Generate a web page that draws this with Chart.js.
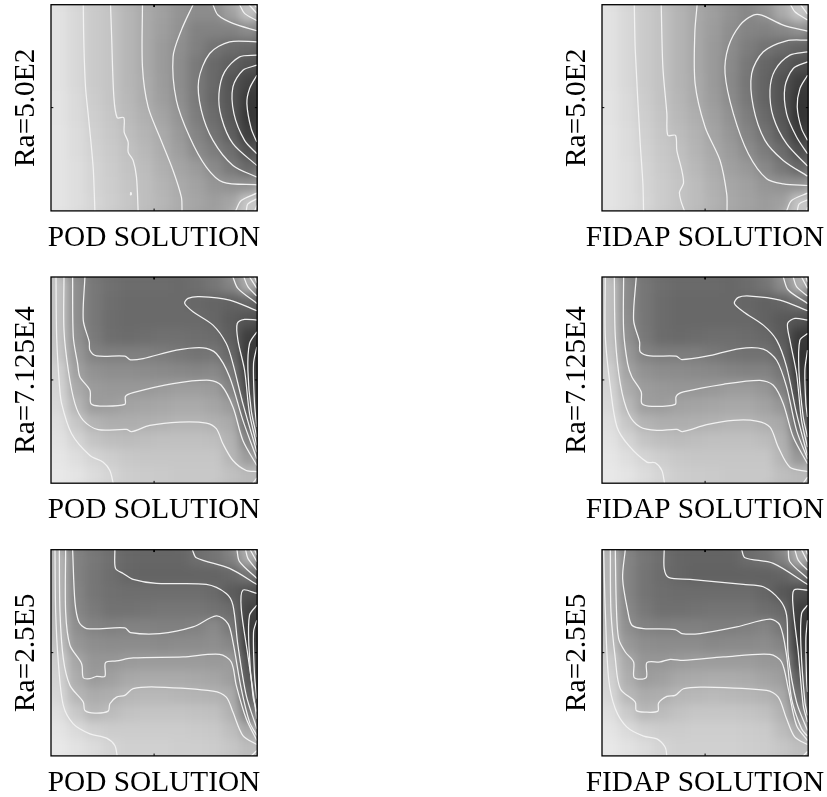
<!DOCTYPE html>
<html><head><meta charset="utf-8">
<script src="https://cdn.jsdelivr.net/npm/chart.js@4"></script>
<style>html,body{margin:0;padding:0;background:#fff;width:827px;height:797px;overflow:hidden}
canvas{position:absolute}</style></head><body>
<script>
// Gray level (0-255) read per cell, 12 rows top to bottom, 12 columns left to right
const pod500Field=[
[226,216,202,196,182,170,160,148,140,140,160,195],
[226,216,202,196,182,170,158,146,130,130,130,140],
[226,216,202,196,182,170,155,143,128,115,108,105],
[226,216,202,196,182,170,155,141,122,105,95,85],
[226,216,202,196,182,172,156,141,122,105,85,68],
[227,218,204,196,184,172,158,143,122,103,86,58],
[227,218,206,198,186,176,164,148,125,108,88,55],
[228,220,208,200,190,180,170,153,132,115,95,62],
[228,220,210,202,193,184,172,158,139,125,110,82],
[228,222,212,204,195,188,176,165,155,138,122,105],
[228,222,212,205,197,190,180,170,162,150,145,145],
[228,222,214,206,198,190,182,172,165,158,165,200]];
const fidap500Field=[
[226,216,202,194,180,168,158,146,135,145,170,198],
[226,216,202,194,180,168,156,142,132,130,135,145],
[226,216,202,194,180,168,154,140,125,115,108,100],
[226,216,202,194,180,168,154,138,120,102,92,80],
[226,216,202,194,180,170,154,137,118,100,82,62],
[227,218,204,194,182,170,156,139,120,100,82,54],
[227,218,206,196,184,174,160,145,126,106,86,52],
[228,220,208,198,188,178,164,150,132,114,92,60],
[228,220,210,200,192,180,168,155,140,124,108,80],
[228,222,212,202,194,184,172,160,152,136,120,104],
[228,222,212,204,196,188,176,166,160,150,146,146],
[228,222,214,204,196,188,178,168,162,156,160,198]];
const pod7125Field=[
[195,142,120,112,108,108,108,106,110,118,132,172],
[195,142,120,110,106,106,106,106,104,101,98,102],
[195,142,120,109,106,106,106,106,106,102,92,84],
[195,146,122,110,108,110,112,112,110,108,95,62],
[198,152,130,127,127,127,124,120,116,118,103,58],
[208,160,146,142,142,140,138,136,134,136,120,62],
[212,170,155,152,152,152,155,158,158,155,132,72],
[216,182,156,157,163,165,167,170,170,165,155,88],
[222,198,180,174,174,175,177,180,180,176,170,105],
[226,212,196,190,188,190,192,192,192,190,178,132],
[230,222,212,205,200,198,198,198,198,198,182,155],
[232,228,220,212,205,203,202,200,200,200,192,185]];
const fidap7125Field=[
[192,138,118,110,106,106,106,104,108,116,138,176],
[192,138,118,108,104,104,104,104,102,98,100,112],
[192,140,118,108,104,104,104,104,104,98,90,84],
[193,144,120,108,106,108,110,110,108,104,92,58],
[197,152,130,125,125,125,120,116,114,114,100,52],
[206,162,146,141,140,138,136,132,130,130,118,55],
[212,172,156,152,150,150,152,156,156,150,130,68],
[216,184,158,156,162,164,166,168,168,162,150,80],
[222,198,180,174,174,175,177,180,180,174,168,100],
[226,212,196,190,188,190,192,192,192,188,176,128],
[230,222,212,205,200,198,198,198,198,198,180,150],
[232,228,220,212,205,203,202,200,200,200,190,185]];
const pod25Field=[
[182,130,120,112,104,102,102,102,110,116,128,172],
[182,130,118,110,102,100,100,100,100,100,104,116],
[182,132,118,112,110,110,110,110,110,106,92,82],
[182,134,122,114,114,116,118,118,118,114,108,68],
[186,142,131,128,130,130,128,128,130,138,120,60],
[192,150,142,140,140,140,138,140,140,142,135,62],
[205,165,150,150,154,155,155,155,155,154,155,78],
[210,172,155,160,168,170,170,170,168,165,158,88],
[214,182,172,174,182,184,184,182,180,178,172,100],
[222,200,182,188,194,196,196,196,194,192,178,125],
[228,218,208,204,204,204,204,204,202,200,190,168],
[232,226,220,212,208,208,208,206,206,204,198,188]];
const fidap25Field=[
[180,132,118,110,102,100,100,100,108,114,130,174],
[180,132,116,108,102,98,98,98,98,98,100,114],
[180,132,116,110,108,108,108,108,108,102,88,78],
[182,136,120,112,112,114,116,116,116,110,105,62],
[185,142,130,127,128,128,126,126,128,132,118,55],
[192,152,142,140,140,140,136,138,138,140,132,58],
[204,168,150,150,154,156,156,156,156,152,150,72],
[210,174,156,160,168,170,172,172,170,164,158,92],
[214,184,172,174,182,184,186,184,182,178,170,108],
[222,202,184,188,194,198,198,198,196,192,178,135],
[228,218,208,204,204,206,206,206,204,202,188,172],
[232,226,220,212,208,208,208,208,206,204,198,190]];

// Contour polylines, in the panel's own units (x 0-620, y 0-617 from the top)
const pod500Contours=[
[[97,0],[98,80],[100,160],[104,250],[112,330],[120,410],[127,490],[130,560],[132,617]],
[[179,0],[182,86],[189,276],[199,338],[219,338],[220,381],[232,411],[232,441],[247,466],[257,516],[262,617]],
[[275,0],[275,186],[292,306],[327,396],[367,496],[392,576],[394,617]],
[[427,0],[392,76],[367,156],[377,286],[417,396],[467,486],[517,531],[619,539]],
[[619,111],[537,111],[477,146],[444,226],[452,316],[487,406],[547,481],[619,516]],
[[619,151],[567,156],[522,201],[505,266],[512,336],[547,416],[619,481]],
[[619,181],[577,196],[547,246],[550,326],[582,406],[619,446]],
[[619,211],[597,251],[589,296],[602,371],[619,411]],
[[487,0],[502,31],[547,56],[619,78]],
[[567,0],[582,26],[619,48]],
[[595,0],[619,26]],
[[612,0],[619,8]],
[[555,617],[572,586],[619,564]],
[[587,617],[592,596],[619,581]],
[[612,617],[619,601]],
[[240,561],[242,567],[239,569],[240,561]]];
const fidap500Contours=[
[[97,0],[100,136],[115,416],[123,536],[125,617]],
[[178,0],[183,186],[195,326],[198,391],[221,391],[225,436],[240,496],[245,534],[233,561],[237,586],[248,617]],
[[286,0],[279,86],[280,236],[310,366],[355,466],[375,566],[376,617]],
[[618,79],[545,61],[480,31],[455,31],[415,61],[380,126],[370,206],[395,326],[440,446],[495,521],[545,536],[618,541]],
[[618,106],[555,108],[485,141],[450,206],[455,306],[490,406],[545,466],[618,513]],
[[618,141],[565,151],[520,196],[505,256],[515,336],[555,416],[618,483]],
[[618,171],[575,191],[550,246],[555,326],[585,396],[618,446]],
[[618,211],[595,251],[587,306],[600,371],[618,406]],
[[567,0],[580,21],[618,46]],
[[597,0],[618,28]],
[[555,617],[570,586],[618,564]],
[[587,617],[593,596],[618,584]],
[[615,617],[618,606]]];
const pod7125Contours=[
[[15,0],[17,179],[25,319],[32,379],[62,469],[117,534],[157,554],[177,579],[187,617]],
[[39,0],[39,159],[52,279],[72,379],[97,429],[142,457],[227,456],[242,463],[297,444],[387,434],[467,437],[497,454],[517,499],[547,549],[587,579],[619,582]],
[[65,0],[67,179],[80,259],[87,299],[117,339],[120,379],[147,386],[222,381],[224,357],[247,346],[367,319],[477,309],[512,324],[547,389],[577,489],[619,564]],
[[102,0],[97,129],[115,194],[117,219],[137,236],[222,237],[239,248],[277,244],[377,219],[457,212],[497,229],[537,299],[577,429],[619,544]],
[[619,101],[537,69],[447,59],[412,64],[402,79],[427,104],[487,144],[527,199],[547,259],[577,379],[619,524]],
[[619,129],[582,127],[560,139],[562,189],[582,279],[597,409],[619,504]],
[[619,164],[597,199],[592,279],[602,399],[619,479]],
[[619,209],[609,259],[612,379],[619,449]],
[[547,0],[562,34],[619,79]],
[[580,0],[592,29],[619,57]],
[[597,0],[619,34]],
[[612,0],[619,17]],
[[607,617],[619,601]]];
const fidap7125Contours=[
[[10,0],[10,179],[25,329],[45,449],[80,504],[135,554],[160,556],[180,579],[188,617]],
[[37,0],[40,179],[55,319],[80,409],[115,449],[165,459],[225,456],[242,463],[315,442],[395,429],[465,431],[505,449],[530,509],[565,569],[618,582]],
[[65,0],[65,159],[77,259],[90,299],[118,344],[120,379],[150,387],[220,381],[223,357],[245,344],[365,321],[475,309],[515,324],[545,379],[575,479],[618,559]],
[[103,0],[95,129],[113,194],[115,224],[145,236],[223,237],[240,247],[315,237],[415,214],[485,216],[525,249],[555,329],[585,459],[618,544]],
[[618,101],[535,69],[445,57],[410,61],[398,79],[425,104],[485,144],[525,189],[555,269],[585,409],[618,534]],
[[618,129],[580,124],[558,139],[565,189],[585,289],[600,429],[618,509]],
[[618,169],[595,189],[592,279],[605,419],[618,479]],
[[618,219],[610,279],[613,379],[618,419]],
[[545,0],[560,39],[618,79]],
[[575,0],[585,29],[618,57]],
[[600,0],[618,34]],
[[613,0],[618,14]],
[[605,617],[618,599]]];
const pod25Contours=[
[[12,0],[14,186],[22,336],[37,466],[67,521],[117,551],[167,564],[192,586],[199,617]],
[[25,0],[27,186],[37,326],[57,406],[97,456],[102,481],[132,489],[172,483],[177,461],[197,441],[222,436],[247,416],[317,411],[487,423],[527,441],[547,486],[577,556],[619,583]],
[[44,0],[44,186],[57,286],[92,341],[97,383],[117,386],[137,379],[162,379],[164,338],[197,333],[247,324],[397,321],[507,313],[542,336],[557,406],[587,506],[619,571]],
[[65,0],[72,156],[84,216],[107,236],[222,234],[239,248],[327,251],[427,231],[497,198],[532,221],[547,276],[572,416],[597,516],[619,556]],
[[192,0],[194,56],[217,71],[247,89],[317,101],[467,104],[527,131],[547,166],[562,286],[587,436],[619,536]],
[[425,0],[437,24],[537,56],[619,104]],
[[619,131],[577,121],[572,176],[592,316],[619,506]],
[[619,166],[597,196],[595,286],[607,436],[619,486]],
[[619,211],[609,246],[612,376],[619,446]],
[[559,0],[567,36],[619,86]],
[[585,0],[592,26],[619,61]],
[[599,0],[619,36]],
[[612,0],[619,16]],
[[602,617],[619,601]]];
const fidap25Contours=[
[[5,0],[10,186],[20,386],[40,476],[75,531],[125,558],[165,566],[190,591],[195,617]],
[[25,0],[27,186],[40,326],[55,416],[100,456],[103,481],[130,486],[168,483],[170,459],[195,439],[220,436],[245,416],[305,411],[495,421],[530,441],[555,506],[580,561],[618,583]],
[[40,0],[43,166],[50,266],[70,306],[95,336],[97,383],[133,383],[135,338],[175,336],[205,328],[245,331],[365,321],[505,313],[540,336],[560,416],[585,526],[618,571]],
[[70,0],[62,86],[78,186],[90,226],[125,236],[220,239],[240,251],[295,251],[405,231],[505,208],[535,226],[555,316],[570,446],[600,536],[618,558]],
[[187,0],[187,56],[200,83],[265,89],[425,104],[485,111],[535,151],[555,196],[560,316],[585,456],[618,541]],
[[420,0],[430,24],[515,41],[618,104]],
[[618,121],[577,121],[575,176],[590,306],[605,466],[618,516]],
[[618,166],[600,191],[598,286],[610,456],[618,496]],
[[618,211],[613,266],[615,386],[618,426]],
[[560,0],[565,36],[618,86]],
[[580,0],[590,31],[618,61]],
[[600,0],[618,36]],
[[613,0],[618,14]],
[[605,617],[618,604]]];

// Inward tick marks at the middle of each side
const tickMarks=[[[310,0],[310,7]],[[310,617],[310,610]],[[0,308],[7,308]],[[620,308],[613,308]]];
const rowLabels=['Ra=5.0E2','Ra=7.125E4','Ra=2.5E5'];
const colLabels=['POD SOLUTION','FIDAP SOLUTION'];
const panels=[
 {f:pod500Field,c:pod500Contours,row:0,col:0},{f:fidap500Field,c:fidap500Contours,row:0,col:1},
 {f:pod7125Field,c:pod7125Contours,row:1,col:0},{f:fidap7125Field,c:fidap7125Contours,row:1,col:1},
 {f:pod25Field,c:pod25Contours,row:2,col:0},{f:fidap25Field,c:fidap25Contours,row:2,col:1}];
const XMAX=620,YMAX=617,AREA=206.2,FS=29.3;
// each canvas is centred on its panel so the bottom title sits centred under it
const canvasLeft=[0,557],canvasWidth=[308,296],plotLeft=[51,45],canvasTop=[0,272,545],plotTop=[4.7,5,4.7];
const FONT='"Liberation Serif","Times New Roman",serif';

const smoothCells={id:'smoothCells',
 afterDatasetDraw(chart,args){
  if(args.index!==1)return;
  const a=chart.chartArea,ctx=chart.ctx,cv=chart.canvas;
  ctx.save();
  ctx.beginPath();ctx.rect(a.left,a.top,a.right-a.left,a.bottom-a.top);ctx.clip();
  ctx.filter='blur(5px)';
  ctx.drawImage(cv,0,0);
  ctx.restore();
  const m=11;
  ctx.clearRect(a.left-m,a.top-m,m,a.bottom-a.top+2*m);
  ctx.clearRect(a.right,a.top-m,m,a.bottom-a.top+2*m);
  ctx.clearRect(a.left,a.top-m,a.right-a.left,m);
  ctx.clearRect(a.left,a.bottom,a.right-a.left,m);
 }};
const frame={id:'frame',afterDatasetsDraw(chart){
  const a=chart.chartArea,ctx=chart.ctx;
  ctx.save();ctx.strokeStyle='#000';ctx.lineWidth=1.3;
  ctx.strokeRect(a.left,a.top,a.right-a.left,a.bottom-a.top);ctx.restore();
 }};

panels.forEach(p=>{
 const cv=document.createElement('canvas');
 const W=canvasWidth[p.col],H=258;
 cv.width=W;cv.height=H;cv.style.left=canvasLeft[p.col]+'px';cv.style.top=canvasTop[p.row]+'px';
 cv.style.width=W+'px';cv.style.height=H+'px';
 document.body.appendChild(cv);
 const n=p.f.length,m=p.f[0].length,cells=[],colors=[];
 p.f.forEach((r,i)=>r.forEach((v,j)=>{
  cells.push({x:(j+.5)*XMAX/m,y:(i+.5)*YMAX/n});colors.push(`rgb(${v},${v},${v})`);}));
 const rad=AREA/m/2*Math.SQRT2+.4;
 const heat=(r,o)=>({data:cells,pointStyle:'rect',pointRadius:r,pointBorderWidth:0,pointBackgroundColor:colors,
   showLine:false,clip:false,order:o});
 const lines=p.c.map(l=>({data:l.map(q=>({x:q[0],y:q[1]})),showLine:true,pointRadius:0,borderColor:'#f2f2f2',
   borderWidth:1.25,tension:.3,fill:false,order:2}));
 const ticks=tickMarks.map(l=>({data:l.map(q=>({x:q[0],y:q[1]})),showLine:true,pointRadius:0,borderColor:'#000',
   borderWidth:1,tension:0,fill:false,order:1}));
 const top=plotTop[p.row],left=plotLeft[p.col];
 const titlePadTop=9.5,titleH=FS*1.2+titlePadTop;
 new Chart(cv,{type:'scatter',
  data:{datasets:[heat(rad*2,10),heat(rad,9),...lines,...ticks]},
  plugins:[smoothCells,frame],
  options:{responsive:false,animation:false,
   layout:{autoPadding:false,padding:{top:top,right:0,left:0,bottom:H-top-AREA-titleH}},
   plugins:{legend:{display:false},tooltip:{enabled:false},
     title:{display:true,position:'bottom',text:colLabels[p.col],color:'#000',font:{family:FONT,size:FS,weight:'normal',lineHeight:1.2},padding:{top:titlePadTop,bottom:0}}},
   scales:{
    x:{type:'linear',display:false,min:0,max:XMAX},
    y:{type:'linear',min:0,max:YMAX,reverse:true,grid:{display:false},border:{display:false},ticks:{display:false},
      afterFit(s){s.width=left;},
      title:{display:true,text:rowLabels[p.row],color:'#000',font:{family:FONT,size:FS},padding:{top:p.col===0?9:3,bottom:0}}},
    rightGap:{type:'linear',position:'right',grid:{display:false},border:{display:false},ticks:{display:false},
      afterFit(s){s.width=W-left-AREA;}}
   }}});
});
</script></body></html>
